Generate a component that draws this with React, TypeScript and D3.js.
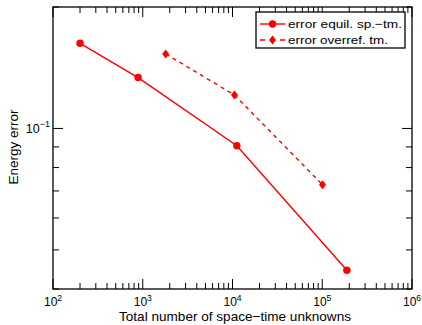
import React from "react";
import * as d3 from "d3";

const seriesNames = ["error equil. sp.\u2212tm.", "error overref. tm."];
const equilX = [200, 887, 11170, 188000];
const equilY = [0.1626, 0.1337, 0.0906, 0.0445];
const overX = [1800, 10520, 100700];
const overY = [0.153, 0.121, 0.0725];
const xTickExps = [2, 3, 4, 5, 6];
const yTickExps = [-1];

const W = 422, H = 325;
const L = 53, R = 412, T = 7, B = 289;
const RED = "#ff0000";
const FONT = "'Liberation Sans', Arial, sans-serif";

export default function App() {
  const x = d3.scaleLog().domain([100, 1e6]).range([L, R]);
  const y = d3.scaleLog().domain([0.04, 0.2]).range([B, T]);
  const line = d3.line<[number, number]>().x(d => x(d[0])).y(d => y(d[1]));
  const eq: [number, number][] = equilX.map((v, i) => [v, equilY[i]]);
  const ov: [number, number][] = overX.map((v, i) => [v, overY[i]]);

  const xMinor: number[] = [];
  for (let e = 2; e < 6; e++) for (let m = 2; m <= 9; m++) xMinor.push(m * Math.pow(10, e));
  const yMinor: number[] = [];
  [0.01, 0.1].forEach(b => { for (let m = 1; m <= 9; m++) { const v = m * b; if (v >= 0.04 && v <= 0.2 && v !== 0.1) yMinor.push(v); } });

  const diamond = (cx: number, cy: number) => `M${cx},${cy - 4.5}L${cx + 3.5},${cy}L${cx},${cy + 4.5}L${cx - 3.5},${cy}Z`;
  const major = 10, minor = 6;

  return (
    <svg width={W} height={H} style={{ position: "absolute", left: 0, top: 0 }} fontFamily={FONT}>
      <rect width={W} height={H} fill="white" />
      {/* data */}
      <path d={line(eq) || ""} fill="none" stroke={RED} strokeWidth={1.4} />
      <path d={line(ov) || ""} fill="none" stroke={RED} strokeWidth={1.4} strokeDasharray="4,4" />
      {eq.map((d, i) => <circle key={i} cx={x(d[0])} cy={y(d[1])} r={3.7} fill={RED} />)}
      {ov.map((d, i) => <path key={i} d={diamond(x(d[0]), y(d[1]))} fill={RED} />)}
      {/* ticks */}
      <g stroke="black" strokeWidth={1}>
        {xMinor.map((v, i) => (
          <g key={i}>
            <line x1={x(v)} x2={x(v)} y1={B} y2={B - minor} />
            <line x1={x(v)} x2={x(v)} y1={T} y2={T + minor} />
          </g>
        ))}
        {xTickExps.map(e => (
          <g key={e}>
            <line x1={x(Math.pow(10, e))} x2={x(Math.pow(10, e))} y1={B} y2={B - major} />
            <line x1={x(Math.pow(10, e))} x2={x(Math.pow(10, e))} y1={T} y2={T + major} />
          </g>
        ))}
        {yMinor.map((v, i) => (
          <g key={i}>
            <line x1={L} x2={L + minor} y1={y(v)} y2={y(v)} />
            <line x1={R} x2={R - minor} y1={y(v)} y2={y(v)} />
          </g>
        ))}
        {yTickExps.map(e => (
          <g key={e}>
            <line x1={L} x2={L + major} y1={y(Math.pow(10, e))} y2={y(Math.pow(10, e))} />
            <line x1={R} x2={R - major} y1={y(Math.pow(10, e))} y2={y(Math.pow(10, e))} />
          </g>
        ))}
      </g>
      <rect x={L} y={T} width={R - L} height={B - T} fill="none" stroke="black" strokeWidth={1.3} />
      {/* tick labels */}
      {xTickExps.map(e => (
        <text key={e} x={x(Math.pow(10, e))} y={306} fontSize={12} textAnchor="middle">
          10<tspan dy={-5} fontSize={8.5}>{e}</tspan>
        </text>
      ))}
      {yTickExps.map(e => (
        <text key={e} x={L - 3} y={y(Math.pow(10, e)) + 5} fontSize={12.5} textAnchor="end">
          10<tspan dy={-6} fontSize={9}>{"\u2212" + Math.abs(e)}</tspan>
        </text>
      ))}
      <text x={235} y={321} fontSize={13} textLength={232} lengthAdjust="spacingAndGlyphs" textAnchor="middle">Total number of space{"\u2212"}time unknowns</text>
      <text transform={`translate(18,${(T + B) / 2 - 1}) rotate(-90)`} fontSize={13.5} textAnchor="middle">Energy error</text>
      {/* legend */}
      <rect x={256} y={12} width={149} height={36} fill="white" stroke="black" strokeWidth={1.3} />
      <line x1={260} x2={285} y1={24} y2={24} stroke={RED} strokeWidth={1.4} />
      <circle cx={272.5} cy={24} r={3.7} fill={RED} />
      <line x1={260} x2={285} y1={40} y2={40} stroke={RED} strokeWidth={1.4} strokeDasharray="5,15,5" />
      <path d={diamond(272.5, 40)} fill={RED} />
      <text x={288} y={28} fontSize={11.8} textLength={114} lengthAdjust="spacingAndGlyphs">{seriesNames[0]}</text>
      <text x={288} y={44} fontSize={11.8} textLength={100} lengthAdjust="spacingAndGlyphs">{seriesNames[1]}</text>
    </svg>
  );
}
